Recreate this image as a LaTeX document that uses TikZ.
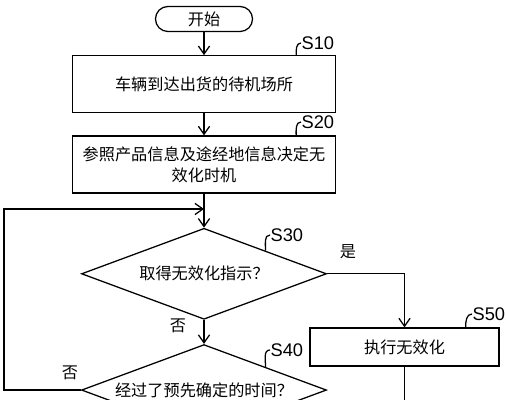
\documentclass[tikz,border=0pt]{standalone}
\usepackage{fontspec}
\setmainfont{Noto Sans CJK SC}
\newfontfamily\tagfont{Liberation Sans}
\usepackage{tikz}
\usetikzlibrary{arrows.meta, positioning, shapes.geometric}

\begin{document}
\begin{tikzpicture}[
            line width=0.9pt,
            node distance=0.575cm,
            every node/.style={font=\fontsize{11.5}{15}\selectfont},
            terminal/.style={
                rectangle,
                draw=black,
                rounded corners=3.1mm,
                minimum width=2.425cm,
                minimum height=0.625cm,
                inner sep=0pt
            },
            block/.style={
                rectangle,
                draw=black,
                minimum width=6.575cm,
                minimum height=1.425cm,
                align=center,
                inner sep=2pt
            },
            decision/.style={
                diamond,
                draw=black,
                aspect=2.7,
                minimum width=6.125cm,
                minimum height=2.275cm,
                inner sep=1pt
            },
            tag/.style={
                font=\tagfont\fontsize{13}{13}\selectfont,
                inner sep=0pt,
                anchor=west
            },
            line/.style={
                draw,
                -{Straight Barb[length=2mm, width=2.8mm]}
            }
        ]
            \useasboundingbox (0,0) rectangle (12.65,10);
            \clip (0,0) rectangle (12.65,10);

            % --- NODES ---
            \node [terminal] (start) at (5.1,9.525) {开始};
            \node [block, below=of start] (s10) {车辆到达出货的待机场所};
            \node [block, below=0.55cm of s10] (s20) {参照产品信息及途经地信息决定无\\效化时机};
            \node [decision, below=0.85cm of s20] (s30) {取得无效化指示？};
            \node [decision, below=0.6cm of s30] (s40) {经过了预先确定的时间？};
            \node [block, minimum width=4.725cm, minimum height=0.95cm] (s50) at (10.1125,1.325) {执行无效化};

            % --- STEP TAGS ---
            \node [tag] (s10tag) at (7.525,8.925) {S10};
            \node [tag] (s20tag) at (7.525,6.95) {S20};
            \node [tag] (s30tag) at (6.75,4.125) {S30};
            \node [tag] (s40tag) at (6.75,1.25) {S40};
            \node [tag] (s50tag) at (11.8,2.15) {S50};

            \draw ([xshift=-1cm]s10.north east) to[out=90, in=180] (s10tag.west);
            \draw ([xshift=-1cm]s20.north east) to[out=90, in=180] (s20tag.west);
            \draw (s30.north east) to[out=90, in=180] (s30tag.west);
            \draw (s40.north east) to[out=90, in=180] (s40tag.west);
            \draw ([xshift=-0.85cm]s50.north east) to[out=90, in=180] (s50tag.west);

            % --- LINKS ---
            \coordinate (merge) at (5.1,4.775);
            \coordinate (s50out) at (10.1125,-0.5);

            \path [line] (start) -- (s10);
            \path [line] (s10) -- (s20);
            \path [line] (s20) -- (s30);
            \path [line] (s30) -- (s40);
            \path [line] (s30.east) -| (s50.north);
            \draw (s50.south) -- (s50out);
            \path [line] (s40.west) -- ++(-1.925,0) |- (merge);

            \node at (8.7,3.7) {是};
            \node at (4.45,1.85) {否};
            \node at (1.75,0.675) {否};
        \end{tikzpicture}
\end{document}
